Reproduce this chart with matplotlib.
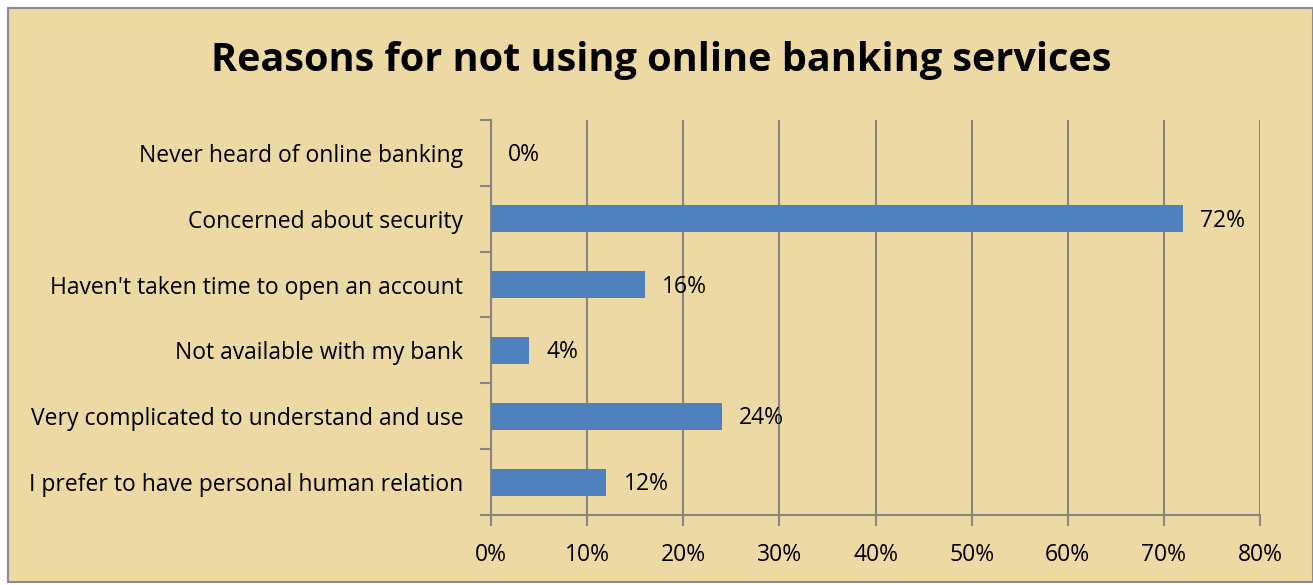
import matplotlib
matplotlib.use("Agg")
import matplotlib.pyplot as plt
from matplotlib.patches import Rectangle
from matplotlib.ticker import FuncFormatter, MultipleLocator

categories = [
    "Never heard of online banking",
    "Concerned about security",
    "Haven't taken time to open an account",
    "Not available with my bank",
    "Very complicated to understand and use",
    "I prefer to have personal human relation",
]
values = [0, 72, 16, 4, 24, 12]
title = "Reasons for not using online banking services"

plt.rcParams['font.family'] = ['Open Sans', 'DejaVu Sans']

W, H = 1313, 585
fig = plt.figure(figsize=(W / 100, H / 100), dpi=100)
fig.patch.set_facecolor("white")

bg = "#EDD9A3"
fig.patches.append(Rectangle((8 / W, 1 - 582 / H), (W - 8) / W, (582 - 8) / H,
                             transform=fig.transFigure, facecolor=bg,
                             edgecolor="#8C8C8C", linewidth=1.5, zorder=-5))

ax = fig.add_axes([491 / W, 1 - 515 / H, (1260 - 491) / W, (515 - 120) / H])
ax.set_zorder(2)
ax.set_facecolor("none")

fs = 16.5
n = len(categories)
ypos = list(range(n))[::-1]
ax.barh(ypos, values, height=0.41, color="#4F81BD", zorder=3)
for y, v in zip(ypos, values):
    ax.text(v + 1.8, y - 0.03, f"{v}%", va="center", ha="left", fontsize=fs, color="black")

ax.set_xlim(0, 80)
ax.set_ylim(-0.5, n - 0.5)
ax.xaxis.set_major_locator(MultipleLocator(10))
ax.xaxis.set_major_formatter(FuncFormatter(lambda x, p: f"{int(round(x))}%"))
ax.grid(axis="x", color="#868686", linewidth=1.5, zorder=1)
ax.set_axisbelow(True)
ax.set_yticks(ypos)
ax.set_yticklabels(categories, fontsize=fs)
ax.set_yticks([i - 0.5 for i in range(n + 1)], minor=True)
ax.tick_params(axis="y", which="major", length=0, pad=20)
ax.tick_params(axis="y", which="minor", length=8, width=1.5, color="#868686")
ax.tick_params(axis="x", length=8, width=1.5, color="#868686", labelsize=fs, pad=12)
for s in ["top", "right"]:
    ax.spines[s].set_visible(False)
for s in ["left", "bottom"]:
    ax.spines[s].set_color("#868686")
    ax.spines[s].set_linewidth(1.5)

fig.text(661 / W, 1 - 60 / H, title, ha="center", va="center",
         fontsize=28.5, fontweight="bold", color="black")

fig.savefig("out.png", dpi=100, facecolor=fig.get_facecolor())
